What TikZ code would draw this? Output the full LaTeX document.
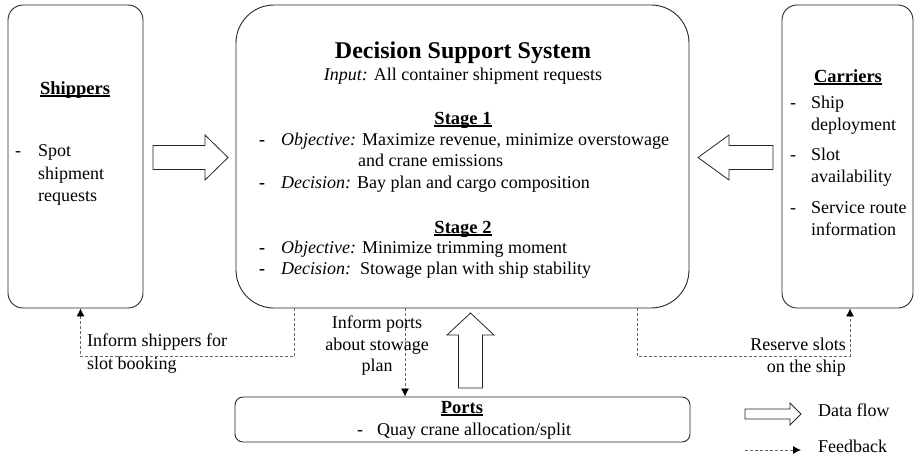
\documentclass[tikz,border=0pt]{standalone}
\usepackage{fontspec}
\setmainfont{Liberation Serif}
\usetikzlibrary{arrows.meta,calc}

% underline that cuts through descenders
\newcommand\ulbar[1]{\setbox0\hbox{#1}\rlap{\rule[-2.2pt]{\wd0}{1.1pt}}\box0}

\tikzset{
  panel/.style={draw=black!85, line width=0.9pt, rounded corners=#1, inner sep=0pt},
  txt/.style={inner sep=0pt, font=\fontsize{18}{21}\selectfont, text=black},
  head/.style={inner sep=0pt, font=\fontsize{18.5}{21}\selectfont\bfseries, text=black},
  bigtitle/.style={inner sep=0pt, font=\fontsize{24}{28}\selectfont\bfseries, text=black},
  fb/.style={draw=black!60, line width=0.8pt, dash pattern=on 3pt off 2pt,
             -{Latex[length=8pt,width=8pt,color=black]}},
  fat/.style={draw=black!85, line width=0.8pt, fill=white, line join=miter},
}

\begin{document}
\begin{tikzpicture}[x=1pt, y=-1pt]
\useasboundingbox (0,0) rectangle (915,459);

% main boxes
\node[panel=15pt, minimum width=135pt, minimum height=303pt] (shippers) at (75.5,156.5) {};
\node[panel=38pt, minimum width=453pt, minimum height=303pt] (dss) at (462.5,156.5) {};
\node[panel=15pt, minimum width=131pt, minimum height=303pt] (carriers) at (847.5,156.5) {};
\node[panel=8pt, minimum width=455pt, minimum height=45pt] (ports) at (462.5,419.5) {};

% shippers
\node[head, anchor=mid] (shT) at (75,92) {\ulbar{Shippers}};
\node[txt, anchor=mid west] (shD) at (15,154) {-};
\node[txt, anchor=mid west] (sh1) at (38,154) {Spot};
\node[txt, anchor=mid west] (sh2) at (38,177) {shipment};
\node[txt, anchor=mid west] (sh3) at (38,199) {requests};

% decision support system
\node[bigtitle, anchor=mid] (dssT) at (463,56) {Decision Support System};
\node[txt, anchor=mid] (dssIn) at (463,78) {\textit{Input:} All container shipment requests};
\node[head, anchor=mid] (st1) at (463,122) {\ulbar{Stage 1}};
\node[txt, anchor=mid west] (d1) at (259,143) {\textbf{-}};
\node[txt, anchor=mid west] (o1) at (281,143) {\textit{Objective:} Maximize revenue, minimize overstowage};
\node[txt, anchor=mid west] (o1b) at (358,164) {and crane emissions};
\node[txt, anchor=mid west] (d2) at (259,186) {\textbf{-}};
\node[txt, anchor=mid west] (c1) at (281,186) {\textit{Decision:} Bay plan and cargo composition};
\node[head, anchor=mid] (st2) at (463,231) {\ulbar{Stage 2}};
\node[txt, anchor=mid west] (d3) at (259,251) {\textbf{-}};
\node[txt, anchor=mid west] (o2) at (281,251) {\textit{Objective:} Minimize trimming moment};
\node[txt, anchor=mid west] (d4) at (259,272) {\textbf{-}};
\node[txt, anchor=mid west] (c2) at (281,272) {\textit{Decision:}\ \ Stowage plan with ship stability};

% carriers
\node[head, anchor=mid] (caT) at (848,80) {\ulbar{Carriers}};
\node[txt, anchor=mid west] (caD1) at (790,106) {-};
\node[txt, anchor=mid west] (ca1) at (811,106) {Ship};
\node[txt, anchor=mid west] (ca2) at (811,128) {deployment};
\node[txt, anchor=mid west] (caD2) at (790,158) {-};
\node[txt, anchor=mid west] (ca3) at (811,158) {Slot};
\node[txt, anchor=mid west] (ca4) at (811,180) {availability};
\node[txt, anchor=mid west] (caD3) at (790,211) {-};
\node[txt, anchor=mid west] (ca5) at (811,211) {Service route};
\node[txt, anchor=mid west] (ca6) at (811,233) {information};

% ports
\node[head, anchor=mid] (poT) at (462,411) {\ulbar{Ports}};
\node[txt, anchor=mid west] (poD) at (357,433) {-};
\node[txt, anchor=mid west] (po1) at (377,433) {Quay crane allocation/split};

% data flow arrows
\draw[fat] (153,145.5) -- (205,145.5) -- (205,135) -- (228,157.5) -- (205,180) -- (205,169.5) -- (153,169.5) -- cycle;
\draw[fat] (773,145.5) -- (729,145.5) -- (729,135) -- (698,157.5) -- (729,180) -- (729,169.5) -- (773,169.5) -- cycle;
\draw[fat] (458.5,388) -- (458.5,335) -- (447,335) -- (470.5,313) -- (494,335) -- (482.5,335) -- (482.5,388) -- cycle;

% feedback connectors
\draw[fb] ([xshift=59pt]dss.south west) -- ++(0,48) -| ([xshift=5pt]shippers.south);
\draw[fb] ([xshift=-57.5pt]dss.south) -- ([xshift=-57.5pt]ports.north);
\draw[fb] ([xshift=-52pt]dss.south east) -- ++(0,48) -| ([xshift=2.5pt]carriers.south);

% feedback labels
\node[txt, anchor=mid west] (l1a) at (87,344) {Inform shippers for};
\node[txt, anchor=mid west] (l1b) at (87,367) {slot booking};
\node[txt, anchor=mid] (l2a) at (377,326) {Inform ports};
\node[txt, anchor=mid] (l2b) at (377,348) {about stowage};
\node[txt, anchor=mid] (l2c) at (377,369) {plan};
\node[txt, anchor=mid east] (l3a) at (846,348) {Reserve slots};
\node[txt, anchor=mid east] (l3b) at (846,370) {on the ship};

% legend
\draw[fat] (745,409) -- (790,409) -- (790,403) -- (801,414) -- (790,425) -- (790,419) -- (745,419) -- cycle;
\node[txt, anchor=mid west] (lgData) at (818,414) {Data flow};
\coordinate (lgA) at (745,450);
\coordinate (lgB) at (801,450);
\draw[fb] (lgA) -- (lgB);
\node[txt, anchor=mid west] (lgFb) at (818,450) {Feedback};
\end{tikzpicture}
\end{document}
